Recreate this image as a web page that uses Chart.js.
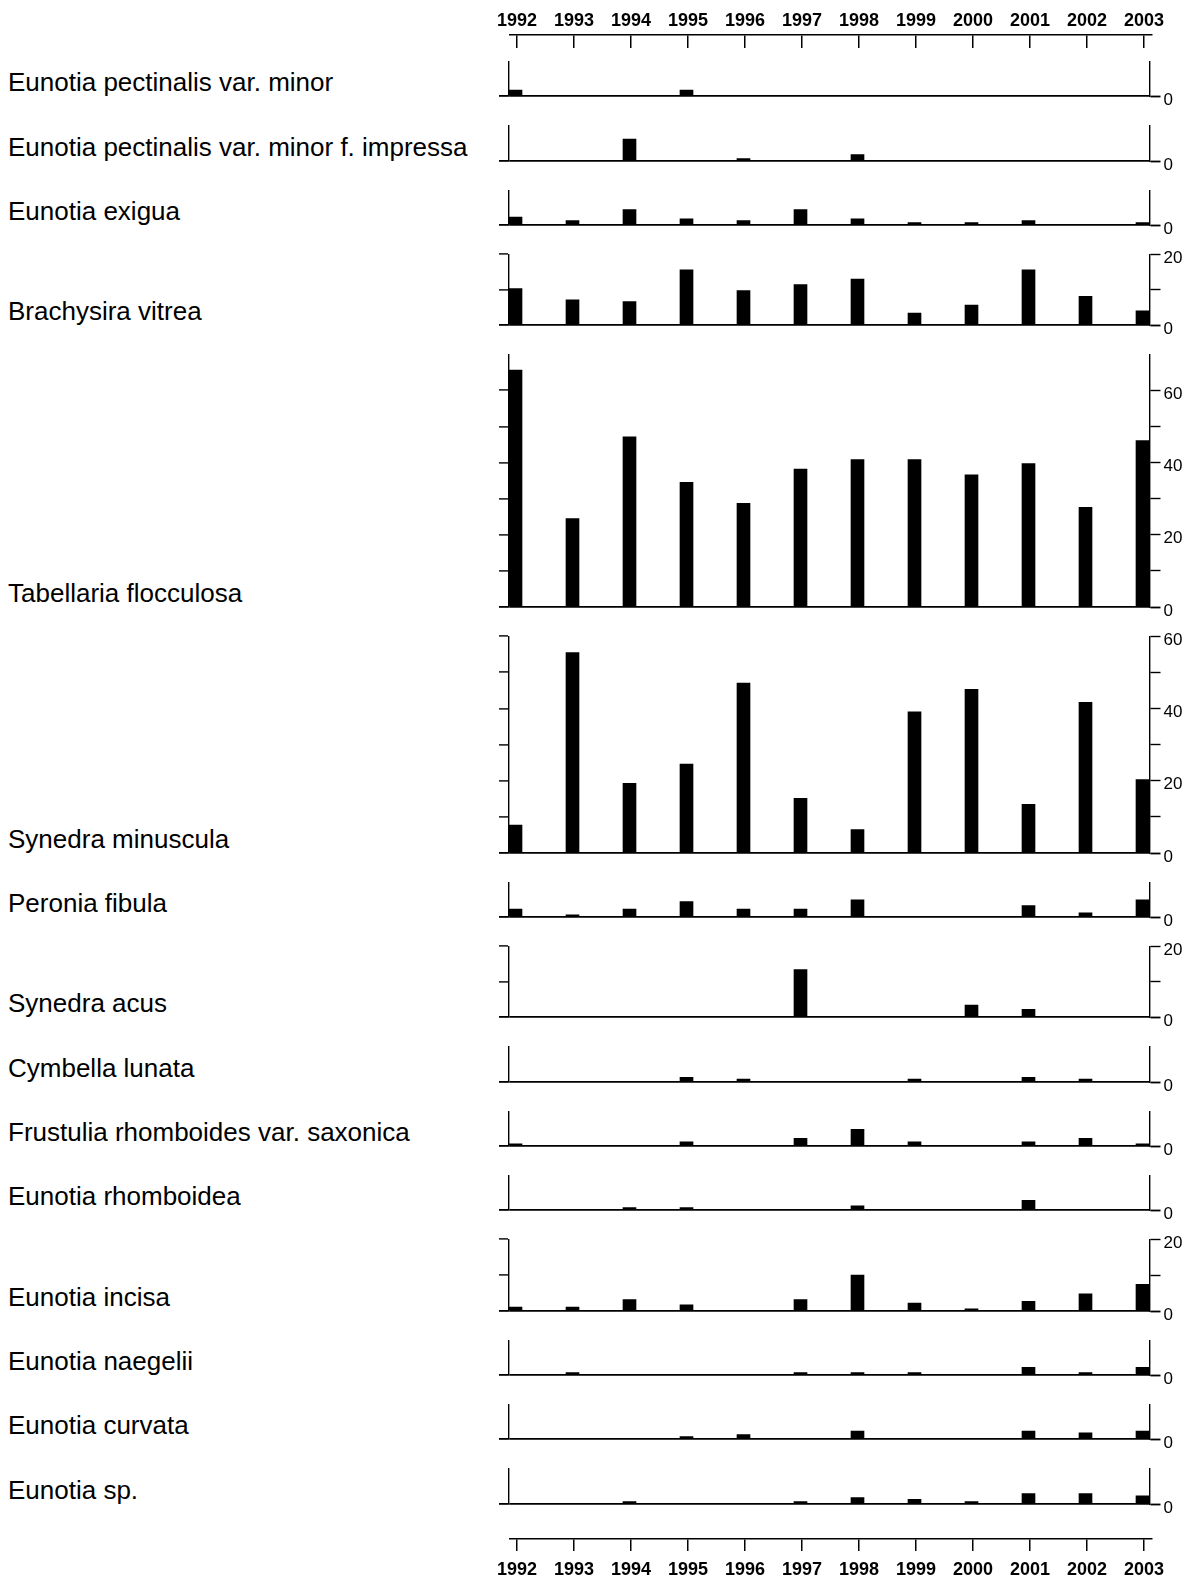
<!DOCTYPE html>
<html>
<head>
<meta charset="utf-8">
<title>Diatom taxa 1992-2003</title>
<script src="https://cdn.jsdelivr.net/npm/chart.js@4.4.1/dist/chart.umd.min.js"></script>
<style>
  html, body { margin: 0; padding: 0; background: #fff; }
  #wrap { position: relative; width: 1191px; height: 1578px; overflow: hidden; }
  #wrap canvas { position: absolute; }
  .taxon {
    position: absolute; left: 8px; white-space: nowrap;
    font: 26px/26px "Liberation Sans", Arial, sans-serif; color: #000;
  }
</style>
</head>
<body>
<div id="wrap"></div>
<script>
// years on the x axis
const years = [1992, 1993, 1994, 1995, 1996, 1997, 1998, 1999, 2000, 2001, 2002, 2003];

// relative abundance per year
const pectinalisMinor    = [1.7, 0, 0, 1.7, 0, 0, 0, 0, 0, 0, 0, 0];
const pectinalisImpressa = [0, 0, 6.1, 0, 0.7, 0, 1.8, 0, 0, 0, 0, 0];
const exigua             = [2.3, 1.3, 4.4, 1.8, 1.3, 4.4, 1.8, 0.7, 0.7, 1.3, 0, 0.7];
const brachysira         = [10.3, 7.1, 6.6, 15.6, 9.7, 11.4, 13.0, 3.4, 5.6, 15.6, 8.1, 4.0];
const tabellaria         = [65.6, 24.5, 47.1, 34.5, 28.7, 38.2, 40.8, 40.8, 36.6, 39.7, 27.6, 46.1];
const synedraMinuscula   = [7.7, 55.5, 19.3, 24.6, 47.0, 15.1, 6.5, 39.1, 45.3, 13.5, 41.7, 20.3];
const peronia            = [2.3, 0.6, 2.3, 4.4, 2.3, 2.3, 4.9, 0, 0, 3.3, 1.2, 4.9];
const synedraAcus        = [0, 0, 0, 0, 0, 13.4, 0, 0, 3.4, 2.2, 0, 0];
const cymbella           = [0, 0, 0, 1.3, 0.8, 0, 0, 0.8, 0, 1.3, 0.8, 0];
const frustulia          = [0.6, 0, 0, 1.2, 0, 2.2, 4.8, 1.2, 0, 1.2, 2.2, 0.6];
const rhomboidea         = [0, 0, 0.7, 0.7, 0, 0, 1.2, 0, 0, 2.8, 0, 0];
const incisa             = [1.1, 1.1, 3.2, 1.7, 0, 3.2, 10.0, 2.2, 0.6, 2.7, 4.8, 7.4];
const naegelii           = [0, 0.7, 0, 0, 0, 0.7, 0.7, 0.7, 0, 2.2, 0.7, 2.2];
const curvata            = [0, 0, 0, 0.7, 1.3, 0, 2.3, 0, 0, 2.3, 1.8, 2.3];
const eunotiaSp          = [0, 0, 0.7, 0, 0, 0.7, 1.8, 1.3, 0.7, 2.9, 2.9, 2.3];

const taxa = [
  "Eunotia pectinalis var. minor",
  "Eunotia pectinalis var. minor f. impressa",
  "Eunotia exigua",
  "Brachysira vitrea",
  "Tabellaria flocculosa",
  "Synedra minuscula",
  "Peronia fibula",
  "Synedra acus",
  "Cymbella lunata",
  "Frustulia rhomboides var. saxonica",
  "Eunotia rhomboidea",
  "Eunotia incisa",
  "Eunotia naegelii",
  "Eunotia curvata",
  "Eunotia sp."
];
const series = [
  pectinalisMinor, pectinalisImpressa, exigua, brachysira, tabellaria,
  synedraMinuscula, peronia, synedraAcus, cymbella, frustulia,
  rhomboidea, incisa, naegelii, curvata, eunotiaSp
];

// axis top of every panel, and the highest tick that is drawn
const axisMax = [10, 10, 10, 20, 70, 60, 10, 20, 10, 10, 10, 20, 10, 10, 10];
const tickTop = [0, 0, 0, 20, 60, 60, 0, 20, 0, 0, 0, 20, 0, 0, 0];

// ---- layout (pixels) ----
const PX_PER_UNIT = 3.626;
const GAP = 28;
const FIRST_TOP = 60;
const CANVAS_LEFT = 480;
const CANVAS_W = 711;
const PLOT_LEFT = 509;      // left axis line
const PLOT_RIGHT = 1149.5;  // right axis line

const wrap = document.getElementById("wrap");
Chart.defaults.font.family = '"Liberation Sans", Arial, sans-serif';
Chart.defaults.color = "#000";

function addCanvas(top, height) {
  const c = document.createElement("canvas");
  c.width = CANVAS_W;
  c.height = height;
  c.style.left = CANVAS_LEFT + "px";
  c.style.top = top + "px";
  wrap.appendChild(c);
  return c.getContext("2d");
}

function panelChart(i, plotTop, plotBottom) {
  const padTop = 12, padBottom = 16;
  const ctx = addCanvas(plotTop - padTop, plotBottom - plotTop + padTop + padBottom);
  const keepTicks = s => { s.ticks = s.ticks.filter(t => t.value <= tickTop[i]); };

  return new Chart(ctx, {
    type: "bar",
    data: {
      datasets: [{
        data: years.map((y, k) => ({ x: y, y: series[i][k] })),
        backgroundColor: "#000",
        borderWidth: 0,
        barThickness: 13,
        yAxisID: "y"
      }]
    },
    options: {
      responsive: false,
      animation: false,
      events: [],
      layout: { padding: { top: padTop, bottom: padBottom, left: 0, right: 0 } },
      plugins: { legend: { display: false }, tooltip: { enabled: false } },
      scales: {
        x: {
          type: "linear",
          display: false,
          offset: false,
          min: 1992 - 6.5 / 57,
          max: 2003 + 7 / 57
        },
        y: {
          position: "left",
          min: 0,
          max: axisMax[i],
          afterFit: s => { s.width = PLOT_LEFT - CANVAS_LEFT; },
          afterBuildTicks: keepTicks,
          ticks: { display: false, stepSize: 10 },
          grid: {
            drawOnChartArea: true,
            color: c => (c.tick && c.tick.value === 0) ? "#000" : "rgba(0,0,0,0)",
            lineWidth: 1.8,
            tickColor: "#000",
            tickLength: 10,
            tickWidth: c => (c.tick && c.tick.value === 0) ? 1.8 : 1.4
          },
          border: { display: true, color: "#000", width: 1.4 }
        },
        y2: {
          position: "right",
          min: 0,
          max: axisMax[i],
          afterFit: s => { s.width = CANVAS_LEFT + CANVAS_W - PLOT_RIGHT; },
          afterBuildTicks: keepTicks,
          ticks: {
            stepSize: 10,
            padding: 3,
            labelOffset: 4,
            color: "#000",
            font: { size: 17 },
            callback: v => (v % 20 === 0 ? String(v) : "")
          },
          grid: {
            drawOnChartArea: false,
            color: "#000",
            tickColor: "#000",
            tickLength: 11,
            tickWidth: c => (c.tick && c.tick.value === 0) ? 1.8 : 1.4
          },
          border: { display: true, color: "#000", width: 1.4 }
        }
      }
    }
  });
}

function yearAxis(position, top, height) {
  const ctx = addCanvas(top, height);
  const isTop = position === "top";
  return new Chart(ctx, {
    type: "bar",
    data: { datasets: [] },
    options: {
      responsive: false,
      animation: false,
      events: [],
      layout: { padding: { left: 30, right: 39, top: 0, bottom: isTop ? 2 : 0 } },
      plugins: { legend: { display: false }, tooltip: { enabled: false } },
      scales: {
        x: {
          type: "linear",
          position: position,
          offset: false,
          min: 1992 - 7 / 57,
          max: 2003 + 8 / 57,
          afterFit: s => { s.height = isTop ? 35 : 39; },
          afterBuildTicks: s => { s.ticks = years.map(v => ({ value: v })); },
          ticks: {
            autoSkip: false,
            maxRotation: 0,
            padding: isTop ? 3 : 8,
            color: "#000",
            font: { size: 18, weight: "bold" },
            callback: v => String(v)
          },
          grid: {
            offset: false,
            drawOnChartArea: isTop,   // top axis: ticks hang below the line
            drawTicks: !isTop,
            color: "#000",
            lineWidth: 1.5,
            tickColor: "#000",
            tickLength: 12,
            tickWidth: 1.5
          },
          border: { display: true, color: "#000", width: 1.6 }
        },
        y: { display: false }
      }
    }
  });
}

function initCharts() {
  yearAxis("top", 0, 50);

  let top = FIRST_TOP;
  taxa.forEach((name, i) => {
    const plotTop = Math.round(top);
    const plotBottom = Math.round(top + axisMax[i] * PX_PER_UNIT);
    panelChart(i, plotTop, plotBottom);

    const label = document.createElement("div");
    label.className = "taxon";
    label.textContent = name;
    label.style.top = (plotBottom - 27) + "px";
    wrap.appendChild(label);

    top = top + axisMax[i] * PX_PER_UNIT + GAP;
  });

  yearAxis("bottom", 1520, 58);
}

initCharts();
</script>
</body>
</html>
